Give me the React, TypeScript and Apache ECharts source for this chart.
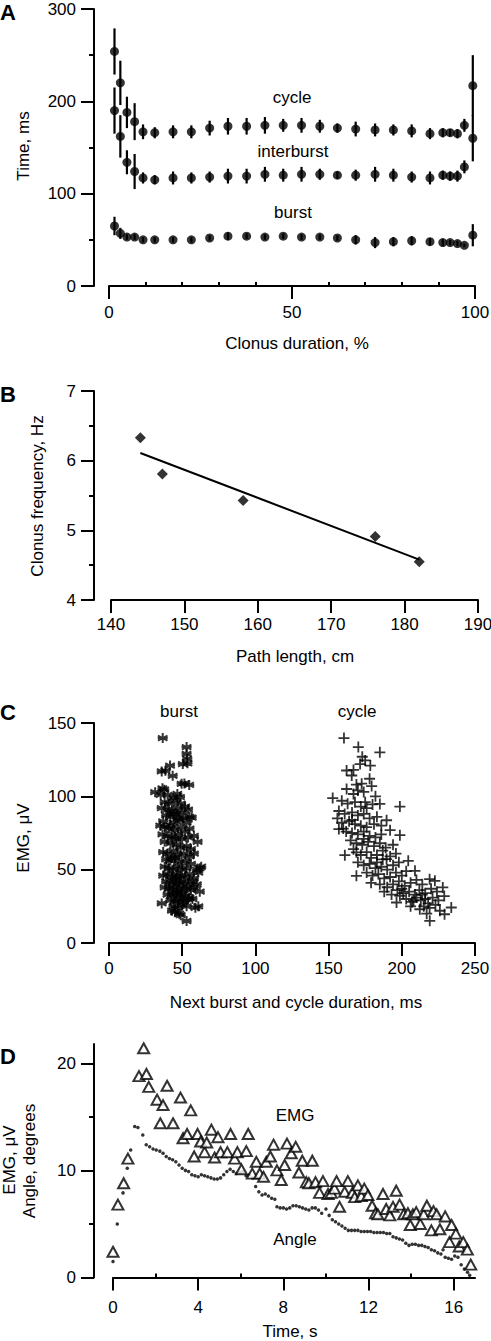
import React, { useEffect, useRef } from "react";
import * as echarts from "echarts";

const FONT = '"Liberation Sans", Arial, Helvetica, sans-serif';
const INK = "#000";

// ---------- Panel A ----------
const clonusPct = [1.5, 3.1, 4.9, 7.0, 9.3, 12.5, 17.5, 22.5, 27.5, 32.5, 37.6, 42.6, 47.6, 52.6, 57.6, 62.4, 67.4, 72.7, 77.7, 82.7, 87.7, 91.2, 93.2, 95.2, 97.1, 99.4];
const cycleMean = [254, 220, 188, 178, 167, 166, 167, 167, 171, 173, 173, 174, 174, 174, 173, 171, 170, 169, 169, 168, 165, 166, 166, 165, 174, 217];
const cycleErr = [25, 24, 17, 20, 8, 6, 7, 7, 8, 9, 9, 9, 7, 8, 7, 5, 8, 7, 6, 7, 6, 5, 4, 5, 7, 33];
const interMean = [190, 162, 134, 124, 117, 115, 117, 117, 118, 119, 119, 121, 120, 121, 121, 120, 120, 121, 120, 118, 117, 120, 119, 119, 129, 160];
const interErr = [25, 23, 13, 19, 6, 5, 7, 6, 6, 8, 8, 8, 7, 8, 6, 4, 6, 8, 7, 6, 7, 5, 5, 6, 7, 25];
const burstMean = [65, 57, 53, 53, 50, 50, 50, 50, 52, 54, 54, 53, 54, 53, 53, 52, 50, 47, 48, 49, 48, 47, 47, 46, 44, 55];
const burstErr = [10, 6, 3, 3, 3, 3, 3, 3, 3, 4, 3, 3, 3, 3, 3, 3, 5, 6, 5, 5, 4, 4, 3, 3, 2, 12];
const aXMinor = [10, 20, 30, 40, 60, 70, 80, 90];

// ---------- Panel B ----------
const pathLength = [144, 147, 158, 176, 182];
const clonusFreq = [6.33, 5.81, 5.43, 4.91, 4.55];
const fitX = [144, 182];
const fitY = [6.11, 4.58];

// ---------- Panel C ----------
const burstScatter = [
  [36.7, 139.7], [53, 133.6], [53, 129], [53.5, 125.6], [50.4, 122], [53.6, 122.5], [41.7, 121], [36, 117], [38.5, 117.5], [43.5, 114],
  [49.6, 108.5], [51.5, 108.8], [54.8, 107.8], [31.5, 102.8], [36.5, 105.5], [37.8, 104.5], [46.7, 101.6], [35.3, 101], [48.5, 99.5], [40, 101],
  [44, 99], [38, 96], [41, 95], [45, 97], [49, 95], [52, 93], [36, 92], [40, 91], [43, 90], [47, 92],
  [50, 89], [54, 91], [39, 87], [42, 86], [46, 88], [51, 85], [55, 86], [56.5, 85.5], [37, 83], [44, 82],
  [48, 84], [53, 82], [35, 80], [38, 79], [41, 78], [45, 77], [49, 79], [52, 76], [55, 78], [36.5, 74],
  [40, 73], [43, 72], [47, 74], [50, 71], [54, 72], [58, 73], [60.5, 69], [38, 69], [42, 68], [46, 67],
  [49, 65], [53, 66], [56, 64], [37, 62], [40, 61], [44, 63], [47, 60], [51, 61], [55, 59], [58, 61],
  [39, 57], [42, 56], [45, 58], [48, 55], [52, 56], [56, 54], [63, 52], [62, 51], [60, 50], [38, 52],
  [41, 51], [44, 50], [47, 52], [50, 50], [53, 51], [37, 46], [40, 47], [43, 45], [46, 47], [49, 46],
  [52, 45], [55, 47], [58, 44], [61, 48], [39, 42], [42, 41], [45, 43], [48, 41], [51, 42], [54, 40],
  [57, 42], [60, 40], [38, 38], [41, 37], [44, 38], [47, 36], [50, 38], [53, 37], [56, 36], [58, 38],
  [62, 35], [40, 33], [43, 32], [46, 34], [49, 33], [52, 32], [55, 31], [42, 29], [45, 28], [48, 29],
  [51, 28], [54, 30], [57, 30], [36, 27], [44, 25], [47, 24], [50, 26], [53, 25], [61, 25], [59, 24],
  [45, 21], [48, 20], [43, 22], [49, 19], [53, 15], [44, 88], [47, 85], [42, 80], [46, 71], [43, 58],
  [46, 44], [44, 35], [47, 31], [50, 35], [46, 40],
];
const cycleScatter = [
  [160.5, 139.7], [170.3, 133.6], [185, 130], [171.5, 122], [175, 124.5], [178.5, 121], [162.3, 117.6], [165.8, 114.2], [169, 108], [172.6, 108.6],
  [179.4, 107], [162.3, 105], [152.8, 98.8], [167, 101.6], [170, 104], [174, 103], [159, 97], [163, 95], [168, 96], [172, 93],
  [176, 92], [180, 94.5], [185, 94.8], [198.7, 93], [157, 90], [161, 88], [166, 89], [170, 87], [174, 88], [178, 85],
  [183, 86], [156, 85], [159, 82], [164, 83], [168, 81], [172, 80], [176, 79], [181, 81], [186, 80], [189.6, 83.7],
  [157, 77.7], [162, 76], [166, 75], [170, 74], [174, 76], [178, 73], [182, 72], [186, 74], [192, 76.9], [198.7, 73.5],
  [165, 70], [169, 68], [173, 67], [177, 69], [181, 66], [185, 68], [189, 65], [194, 67], [161.1, 59.9], [167, 64],
  [169, 61.8], [172, 60], [176, 62], [179, 58], [183, 60], [187, 57], [189.6, 57.2], [192, 59], [196, 61], [170, 55],
  [174, 53], [178, 54], [182, 51], [186, 52], [190, 50], [194, 53], [198, 55], [204.4, 56], [169, 45.8], [176, 48],
  [180, 46], [184, 47], [188, 44], [192, 45], [196, 48], [200, 46], [203, 49], [209, 49.2], [179, 41], [185, 40],
  [190, 38], [194, 40], [198, 42], [202, 39], [206, 41], [210, 43], [214, 40], [219, 43.5], [222.6, 42.4], [188, 35],
  [193, 33], [197, 36], [201, 34], [205, 35], [209, 33], [212, 36], [216, 34], [220, 37], [224, 35], [228, 37.9],
  [196.4, 27.6], [198.7, 32.2], [203, 30], [207, 28], [210, 31], [213, 29], [216, 30], [218, 27], [221, 31], [225, 29],
  [229, 32], [212.3, 23], [215, 25], [219, 24], [223, 26], [226, 22], [233.8, 24.2], [229.2, 19.6], [219.1, 15.1], [208, 29],
  [214, 33], [206, 25], [217, 20], [200, 37], [183, 55], [187, 63], [174, 71], [166, 84], [160, 78], [175, 96],
  [182, 100], [178, 112], [167, 118], [173, 127],
];

// ---------- Panel D ----------
const emgTri = [
  [0, 2.4], [0.23, 6.8], [0.5, 8.8], [0.7, 11.1], [1.22, 18.8], [1.44, 21.4], [1.57, 19.0], [1.68, 17.8], [2.07, 16.6], [2.35, 16.1],
  [2.22, 14.4], [2.54, 17.9], [2.82, 14.4], [3.17, 16.8], [3.29, 13.0], [3.48, 13.4], [3.65, 15.6], [3.81, 11.3], [3.97, 13.4], [4.12, 12.7],
  [4.3, 11.7], [4.4, 12.6], [4.62, 13.8], [4.77, 11.2], [4.93, 13.1], [5.05, 11.7], [5.37, 11.7], [5.52, 13.4], [5.71, 11.1], [5.84, 11.7],
  [6.03, 10.1], [6.26, 11.8], [6.35, 13.4], [6.54, 9.7], [6.73, 10.8], [6.89, 9.7], [7.07, 9.4], [7.2, 10.8], [7.39, 11.3], [7.54, 12.4],
  [7.7, 10.0], [7.9, 9.1], [8.06, 10.5], [8.17, 12.5], [8.37, 11.6], [8.58, 12.2], [8.73, 9.8], [8.89, 10.9], [9.08, 8.9], [9.2, 8.8],
  [9.36, 10.9], [9.51, 8.9], [9.7, 7.9], [9.86, 9.0], [10.1, 7.8], [10.25, 7.9], [10.4, 8.3], [10.5, 9.0], [10.64, 6.6], [10.88, 8.0],
  [11.03, 9.0], [11.24, 7.9], [11.35, 7.5], [11.5, 8.6], [11.66, 7.6], [11.8, 8.3], [11.97, 7.7], [12.17, 6.7], [12.33, 6.0], [12.44, 5.9],
  [12.68, 7.8], [12.83, 6.4], [13.0, 5.8], [13.15, 6.6], [13.3, 8.1], [13.46, 6.8], [13.65, 5.9], [13.85, 6.0], [13.96, 4.9], [14.08, 5.9],
  [14.24, 6.1], [14.43, 5.0], [14.59, 5.9], [14.74, 6.7], [14.95, 4.4], [15.05, 6.2], [15.2, 5.9], [15.35, 4.5], [15.6, 5.7], [15.8, 3.3],
  [15.9, 4.9], [16.1, 4.1], [16.26, 2.9], [16.45, 3.3], [16.64, 2.6], [16.8, 1.2],
];
const angleDots = [
  [0.0, 1.5], [0.2, 5.0], [0.47, 7.9], [0.67, 10.2], [0.83, 11.9], [1.02, 14.1], [1.17, 14.0], [1.4, 13.3], [1.56, 12.4], [1.72, 12.2],
  [1.88, 12.0], [2.03, 11.9], [2.2, 11.8], [2.35, 11.6], [2.5, 11.3], [2.65, 11.1], [2.8, 11.0], [2.95, 10.8], [3.1, 10.5], [3.25, 10.2],
  [3.4, 10.0], [3.55, 9.9], [3.7, 9.6], [3.85, 9.5], [4.0, 9.4], [4.15, 9.6], [4.3, 9.5], [4.45, 9.4], [4.6, 9.3], [4.75, 9.2],
  [4.9, 9.2], [5.05, 9.3], [5.2, 9.6], [5.35, 9.9], [5.5, 10.1], [5.65, 9.9], [5.8, 9.7], [5.95, 9.8], [6.1, 9.9], [6.25, 9.5],
  [6.4, 9.6], [6.55, 9.3], [6.7, 8.5], [6.85, 8.0], [7.0, 7.7], [7.15, 7.8], [7.3, 7.6], [7.45, 7.4], [7.6, 7.3], [7.7, 6.6],
  [7.85, 6.5], [8.0, 6.5], [8.15, 6.4], [8.3, 6.5], [8.45, 6.7], [8.6, 6.7], [8.75, 6.6], [8.9, 6.5], [9.05, 6.4], [9.2, 6.3],
  [9.35, 6.5], [9.5, 6.5], [9.65, 6.3], [9.8, 6.0], [10.0, 6.4], [10.15, 5.8], [10.3, 5.4], [10.45, 5.2], [10.6, 5.0], [10.75, 4.8],
  [10.9, 4.6], [11.05, 4.4], [11.2, 4.4], [11.35, 4.4], [11.5, 4.4], [11.65, 4.3], [11.8, 4.3], [11.95, 4.3], [12.1, 4.3], [12.25, 4.2],
  [12.4, 4.2], [12.55, 4.2], [12.7, 4.2], [12.85, 4.1], [13.0, 4.1], [13.15, 3.8], [13.3, 3.7], [13.45, 3.6], [13.6, 3.5], [13.75, 3.2],
  [13.9, 3.0], [14.05, 3.1], [14.2, 3.1], [14.35, 3.0], [14.5, 3.0], [14.65, 2.9], [14.8, 2.8], [14.95, 2.6], [15.1, 2.5], [15.25, 2.3],
  [15.4, 2.2], [15.5, 2.6], [15.6, 1.9], [15.75, 1.8], [15.9, 1.7], [16.05, 2.0], [16.2, 1.9], [16.35, 1.2], [16.5, 0.8], [16.65, 0.5],
  [16.75, 0.2],
];
const dXTicks = [0, 4, 8, 12, 16];
const dXMinor = [2, 6, 10, 14];
const dYTicks = [0, 10, 20];

// ---------- helpers ----------
const label = { fontFamily: FONT, fontSize: 17, color: INK, lineHeight: 14 };
const lineStyle = { color: INK, width: 2 };

function hidden(grid: number, min: number, max: number) {
  return { type: "value", gridIndex: grid, min, max, show: false, splitLine: { show: false } };
}
function axisMain(grid: number, min: number, max: number, margin: number, ticks: { interval?: number; values?: number[]; minor?: number }) {
  const ax: any = {
    type: "value", gridIndex: grid, min, max,
    axisLine: { show: true, onZero: false, lineStyle },
    axisTick: { show: true, length: 13, inside: false, lineStyle },
    axisLabel: { show: true, margin, ...label },
    splitLine: { show: false },
  };
  if (ticks.interval) ax.interval = ticks.interval;
  if (ticks.values) {
    ax.axisTick.customValues = ticks.values;
    ax.axisLabel.customValues = ticks.values;
  }
  if (ticks.minor) ax.minorTick = { show: true, splitNumber: ticks.minor, length: 5, lineStyle };
  return ax;
}
function axisTicksOnly(grid: number, min: number, max: number, len: number, inside: boolean, ticks: { interval?: number; values?: number[] }) {
  const ax: any = {
    type: "value", gridIndex: grid, min, max,
    axisLine: { show: false, onZero: false },
    axisTick: { show: true, length: len, inside, lineStyle },
    axisLabel: { show: false },
    splitLine: { show: false },
  };
  if (ticks.interval) ax.interval = ticks.interval;
  if (ticks.values) ax.axisTick.customValues = ticks.values;
  return ax;
}

function errorBars(mean: number[], err: number[]) {
  return {
    type: "custom", xAxisIndex: 0, yAxisIndex: 0, silent: true,
    data: clonusPct.map((x, i) => [x, mean[i] - err[i], mean[i] + err[i]]),
    encode: { x: 0, y: [1, 2] },
    renderItem: (_p: any, api: any) => {
      const a = api.coord([api.value(0), api.value(1)]);
      const b = api.coord([api.value(0), api.value(2)]);
      return { type: "line", shape: { x1: a[0], y1: a[1], x2: b[0], y2: b[1] }, style: { stroke: INK, lineWidth: 2.2 } };
    },
  };
}
function dots(mean: number[]) {
  return {
    type: "scatter", xAxisIndex: 0, yAxisIndex: 0, symbol: "circle", symbolSize: 9,
    itemStyle: { color: INK }, data: clonusPct.map((x, i) => [x, mean[i]]),
  };
}

function txt(text: string, x: number, y: number, opts: any = {}) {
  return {
    type: "text", x, y, rotation: opts.rotation || 0,
    style: {
      text, x: 0, y: 0, fill: INK,
      font: opts.font || `17px ${FONT}`,
      align: opts.align || "center", textAlign: opts.align || "center",
      verticalAlign: opts.va || "middle", textVerticalAlign: opts.va || "middle",
    },
  };
}

const ASTERISK = "path://M5,0L5,10M0.7,2.5L9.3,7.5M0.7,7.5L9.3,2.5M0.5,5L9.5,5";
const PLUS = "path://M5,0L5,10M0,5L10,5";

// grid boxes (px)
const A = { top: 9, bottom: 1055 };
const B = { top: 391, bottom: 741 };
const C = { top: 723, bottom: 398 };
const D = { top: 1044, bottom: 63.5 };
const YAXIS_X = 94;
const NB = { outerBoundsMode: "none", containLabel: false };

const option: any = {
  animation: false,
  backgroundColor: "#fff",
  grid: [
    { left: 109, right: 16, ...A, ...NB },            // 0 A data
    { left: YAXIS_X, right: 16, ...A, ...NB },        // 1 A y axis
    { left: 109, right: 16, ...A, ...NB },            // 2 A minor x
    { left: 111, right: 13, ...B, ...NB },            // 3 B data
    { left: YAXIS_X, right: 13, ...B, ...NB },        // 4 B y axis
    { left: 109, right: 16, ...C, ...NB },            // 5 C data
    { left: YAXIS_X, right: 16, ...C, ...NB },        // 6 C y axis
    { left: 113, right: 16, ...D, ...NB },            // 7 D data
    { left: YAXIS_X, right: 16, ...D, ...NB },        // 8 D y axis
    { left: YAXIS_X, right: 16, top: 1063.3, bottom: 63.5, ...NB }, // 9 D minor y (0..20)
    { left: 113, right: 16, ...D, ...NB },            // 10 D minor x
  ],
  xAxis: [
    axisMain(0, 0, 100, 19, { interval: 50 }),
    hidden(1, 0, 1),
    axisTicksOnly(2, 0, 100, 4, true, { values: aXMinor }),
    axisMain(3, 140, 190, 17, { interval: 10 }),
    hidden(4, 0, 1),
    axisMain(5, 0, 250, 18, { interval: 50 }),
    hidden(6, 0, 1),
    axisMain(7, 0, 17, 23, { values: dXTicks }),
    hidden(8, 0, 1),
    hidden(9, 0, 1),
    axisTicksOnly(10, 0, 17, 4, true, { values: dXMinor }),
  ],
  yAxis: [
    hidden(0, 0, 300),
    axisMain(1, 0, 300, 18, { interval: 100, minor: 2 }),
    hidden(2, 0, 300),
    hidden(3, 4, 7),
    axisMain(4, 4, 7, 18, { interval: 1, minor: 2 }),
    hidden(5, 0, 150),
    axisMain(6, 0, 150, 18, { interval: 50 }),
    hidden(7, 0, 21.8),
    axisMain(8, 0, 21.8, 18, { values: dYTicks }),
    axisTicksOnly(9, 0, 20, 5, false, { interval: 5 }),
    hidden(10, 0, 21.8),
  ],
  series: [
    errorBars(cycleMean, cycleErr),
    errorBars(interMean, interErr),
    errorBars(burstMean, burstErr),
    dots(cycleMean),
    dots(interMean),
    dots(burstMean),
    {
      type: "line", xAxisIndex: 3, yAxisIndex: 3, showSymbol: false, symbol: "none",
      lineStyle: { color: INK, width: 2 }, data: fitX.map((x, i) => [x, fitY[i]]),
    },
    {
      type: "scatter", xAxisIndex: 3, yAxisIndex: 3, symbol: "diamond", symbolSize: [11, 11],
      itemStyle: { color: INK }, data: pathLength.map((x, i) => [x, clonusFreq[i]]),
    },
    {
      type: "scatter", xAxisIndex: 5, yAxisIndex: 5, symbol: ASTERISK, symbolSize: 10,
      itemStyle: { color: "none", borderColor: INK, borderWidth: 2 }, data: burstScatter,
    },
    {
      type: "scatter", xAxisIndex: 5, yAxisIndex: 5, symbol: PLUS, symbolSize: 11,
      itemStyle: { color: "none", borderColor: INK, borderWidth: 1.8 }, data: cycleScatter,
    },
    {
      type: "scatter", xAxisIndex: 7, yAxisIndex: 7, symbol: "circle", symbolSize: 3.5,
      itemStyle: { color: INK }, data: angleDots,
    },
    {
      type: "scatter", xAxisIndex: 7, yAxisIndex: 7, symbol: "triangle", symbolSize: [11, 10],
      itemStyle: { color: "#fff", borderColor: INK, borderWidth: 2 }, data: emgTri,
    },
  ],
  graphic: [
    txt("A", 0, 1, { font: `bold 22px ${FONT}`, align: "left", va: "top" }),
    txt("B", 0, 383, { font: `bold 22px ${FONT}`, align: "left", va: "top" }),
    txt("C", 0, 701, { font: `bold 22px ${FONT}`, align: "left", va: "top" }),
    txt("D", 0, 1045, { font: `bold 22px ${FONT}`, align: "left", va: "top" }),
    txt("Time, ms", 23, 146, { rotation: Math.PI / 2 }),
    txt("Clonus duration, %", 297, 343),
    txt("cycle", 292, 97),
    txt("interburst", 293, 151),
    txt("burst", 293, 212),
    txt("Clonus frequency, Hz", 37, 496, { rotation: Math.PI / 2 }),
    txt("Path length, cm", 295, 656),
    txt("EMG, μV", 23, 838, { rotation: Math.PI / 2 }),
    txt("Next burst and cycle duration, ms", 296, 1002),
    txt("burst", 179, 711),
    txt("cycle", 357, 711),
    txt("EMG, μV", 9, 1160, { rotation: Math.PI / 2 }),
    txt("Angle, degrees", 29, 1161, { rotation: Math.PI / 2 }),
    txt("EMG", 295, 1115),
    txt("Angle", 295, 1239),
    txt("Time, s", 290, 1331),
  ],
};

export default function App() {
  const ref = useRef<HTMLDivElement>(null);
  useEffect(() => {
    document.body.style.margin = "0";
    const chart = echarts.init(ref.current!, null, { renderer: "svg" });
    chart.setOption(option);
    return () => chart.dispose();
  }, []);
  return <div ref={ref} style={{ width: 491, height: 1341, background: "#fff" }} />;
}
